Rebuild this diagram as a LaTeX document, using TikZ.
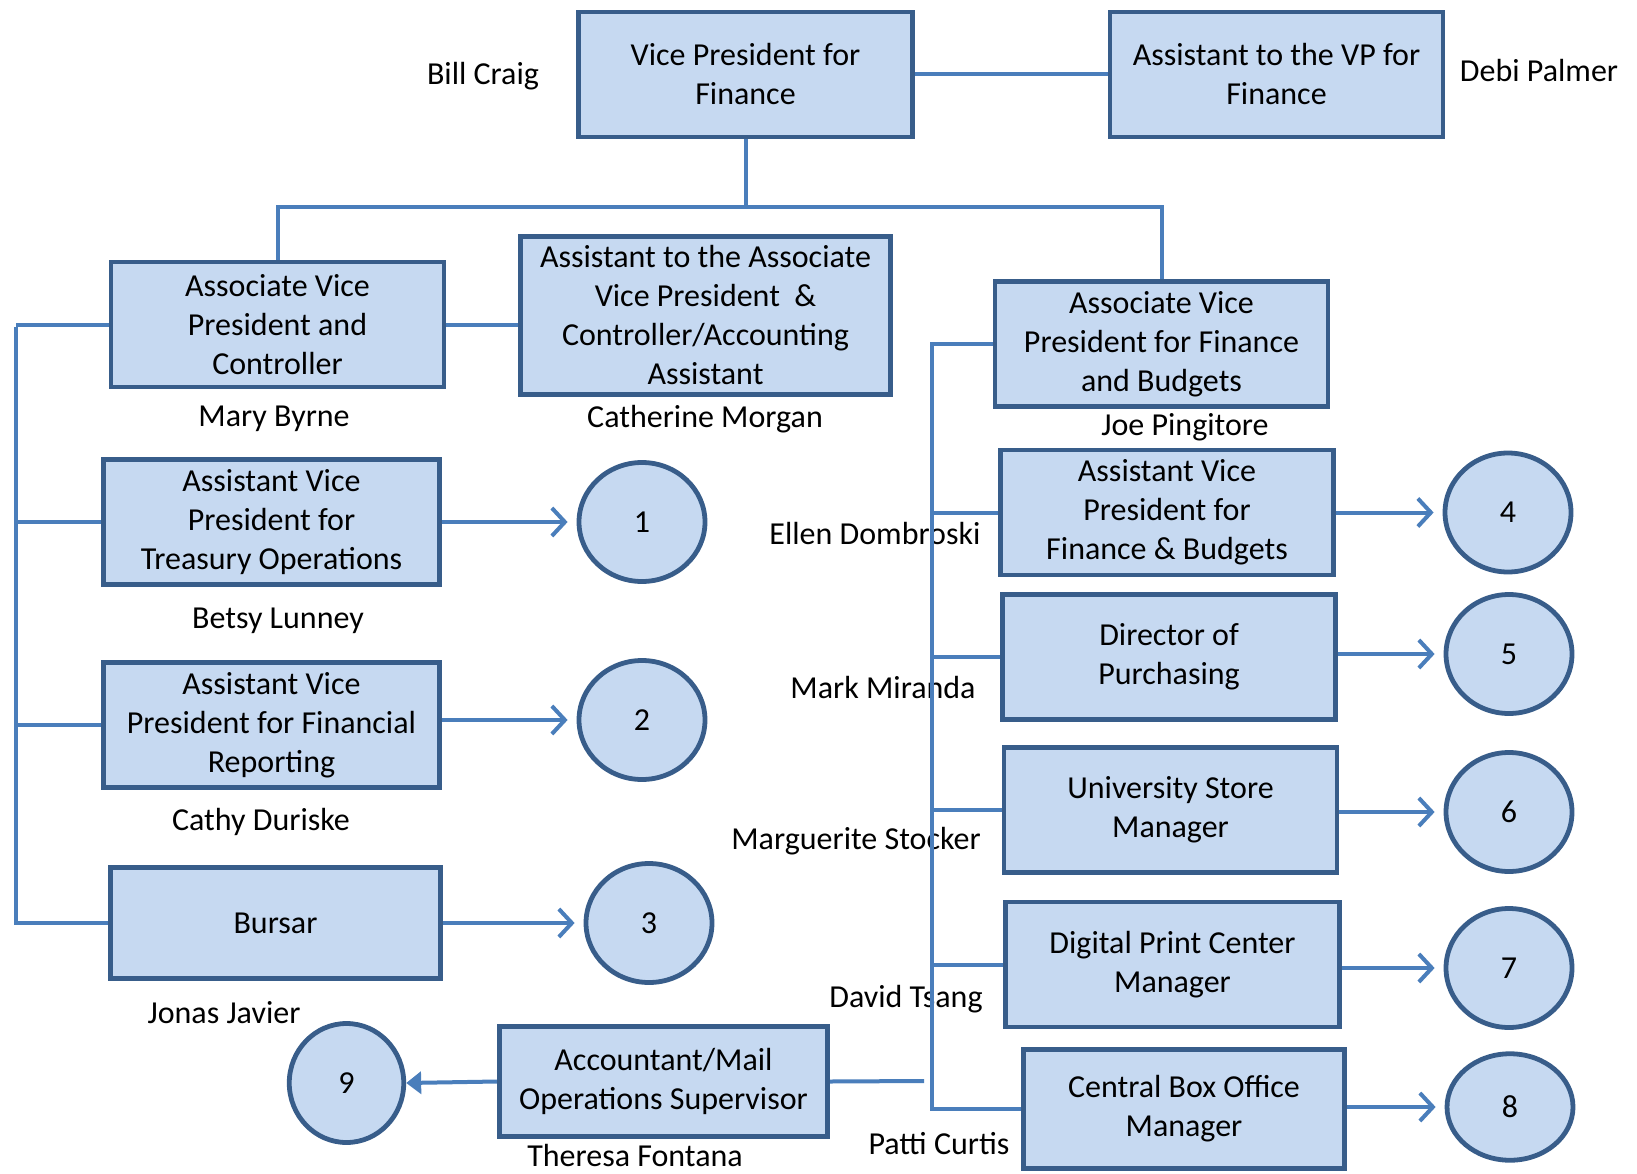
\documentclass[tikz,border=0pt]{standalone}
\usepackage{fontspec}
\setmainfont{Carlito}
\usetikzlibrary{shapes.geometric,arrows.meta}
\definecolor{relleno}{HTML}{C6D9F1}
\definecolor{borde}{HTML}{385D8A}
\definecolor{azul}{HTML}{4A7EBB}

\begin{document}
\begin{tikzpicture}[x=1pt, y=-1pt,
    font=\fontsize{32}{39}\selectfont,
    caja/.style={draw=borde, fill=relleno, line width=4.8pt, align=center,
      inner sep=0pt, minimum width=333pt, minimum height=125pt},
    bola/.style={ellipse, draw=borde, fill=relleno, line width=4.8pt,
      inner sep=0pt, minimum width=126pt, minimum height=119pt},
    nombre/.style={inner sep=0pt},
    linea/.style={draw=azul, line width=4pt},
    flecha/.style={linea, -{Straight Barb[length=13pt,width=28pt]}, shorten >=9pt}]
  \useasboundingbox (0,0) rectangle (1637,1174);

  % Cajas
  \node[caja, minimum width=334.5pt] (vp) at (745.5,74.5) {Vice President for\\Finance};
  \node[caja] (avp) at (1276.5,74.5) {Assistant to the VP for\\Finance};
  \node[caja] (ctrl) at (277.5,324.5) {Associate Vice\\President and\\Controller};
  \node[caja, minimum width=370.5pt, minimum height=158.5pt] (actrl) at (705.5,315.5)
    {Assistant to the Associate\\Vice President~~\&\\Controller/Accounting\\Assistant};
  \node[caja] (afb) at (1161.5,344) {Associate Vice\\President for Finance\\and Budgets};
  \node[caja, minimum width=336.5pt] (treas) at (271.5,522) {Assistant Vice\\President for\\Treasury Operations};
  \node[caja, minimum width=336.5pt] (frep) at (271.5,725) {Assistant Vice\\President for Financial\\Reporting};
  \node[caja, minimum width=330.5pt, minimum height=111.5pt] (bursar) at (275.5,923) {Bursar};
  \node[caja] (fb) at (1167,512.5) {Assistant Vice\\President for\\Finance \& Budgets};
  \node[caja] (purch) at (1169,657) {Director of\\Purchasing};
  \node[caja] (store) at (1170.5,810) {University Store\\Manager};
  \node[caja, minimum width=334.5pt] (print) at (1172.5,964.5) {Digital Print Center\\Manager};
  \node[caja, minimum width=321.5pt, minimum height=119.5pt] (box) at (1184,1109) {Central Box Office\\Manager};
  \node[caja, minimum width=328.5pt, minimum height=110.5pt] (mail) at (663.5,1081.5) {Accountant/Mail\\Operations Supervisor};

  % Circulos
  \node[bola] (c1) at (642,522) {1};
  \node[bola] (c2) at (642,720) {2};
  \node[bola] (c3) at (649,923) {3};
  \node[bola] (c4) at (1508,512.5) {4};
  \node[bola] (c5) at (1509,654) {5};
  \node[bola] (c6) at (1509,812) {6};
  \node[bola] (c7) at (1509,968) {7};
  \node[bola, minimum height=106.5pt] (c8) at (1510,1107) {8};
  \node[bola, minimum width=114.5pt] (c9) at (346.5,1083) {9};

  % Nombres
  \node[nombre] (craig) at (483,76) {Bill Craig};
  \node[nombre] (palmer) at (1539,71) {Debi Palmer};
  \node[nombre] (byrne) at (274,419) {Mary Byrne};
  \node[nombre] (morgan) at (705,419) {Catherine Morgan};
  \node[nombre] (pingitore) at (1185,427) {Joe Pingitore};
  \node[nombre] (lunney) at (278,621) {Betsy Lunney};
  \node[nombre] (dombroski) at (875,534) {Ellen Dombroski};
  \node[nombre] (miranda) at (883,688) {Mark Miranda};
  \node[nombre] (duriske) at (261,822) {Cathy Duriske};
  \node[nombre] (stocker) at (856,841) {Marguerite Stocker};
  \node[nombre] (javier) at (224,1013) {Jonas Javier};
  \node[nombre] (tsang) at (906,999) {David Tsang};
  \node[nombre] (fontana) at (635,1155) {Theresa Fontana};
  \node[nombre] (curtis) at (939,1144) {Patti Curtis};

  % Puntos de las lineas
  \coordinate (arriba) at (745.5,207);
  \coordinate (izq) at (16,327);
  \coordinate (der) at (932,342);
  \coordinate (finmail) at (924,1081);

  % Lineas
  \draw[linea] (vp.east) -- (avp.west);
  \draw[linea] (vp.south) -- (arriba);
  \draw[linea] (ctrl.north) |- (arriba) -| (afb.north);
  \draw[linea] (ctrl.east) -- (ctrl.east -| actrl.west);
  \draw[linea] (izq) |- (bursar.west);
  \draw[linea] (ctrl.west -| izq) -- (ctrl.west);
  \draw[linea] (treas.west -| izq) -- (treas.west);
  \draw[linea] (frep.west -| izq) -- (frep.west);
  \draw[linea] (afb.west) -| (der) |- (box.west);
  \draw[linea] (fb.west -| der) -- (fb.west);
  \draw[linea] (purch.west -| der) -- (purch.west);
  \draw[linea] (store.west -| der) -- (store.west);
  \draw[linea] (print.west -| der) -- (print.west);
  \draw[linea] (mail.east) -- (finmail);

  % Flechas
  \draw[flecha] (c1.west -| treas.east) -- (c1.west);
  \draw[flecha] (c2.west -| frep.east) -- (c2.west);
  \draw[flecha] (c3.west -| bursar.east) -- (c3.west);
  \draw[flecha] (c4.west -| fb.east) -- (c4.west);
  \draw[flecha] (c5.west -| purch.east) -- (c5.west);
  \draw[flecha] (c6.west -| store.east) -- (c6.west);
  \draw[flecha] (c7.west -| print.east) -- (c7.west);
  \draw[flecha] (c8.west -| box.east) -- (c8.west);
  \draw[linea, -{Triangle[length=15pt,width=22pt]}] (mail.west) -- (c9.east);
\end{tikzpicture}
\end{document}
